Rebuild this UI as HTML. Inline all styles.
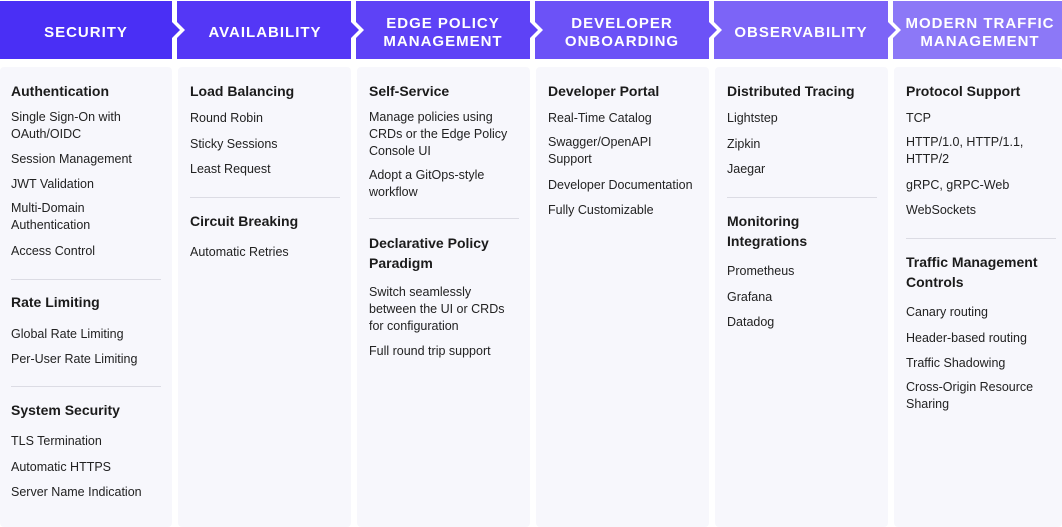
<!DOCTYPE html>
<html><head><meta charset="utf-8"><style>
body{margin:0;width:1062px;height:515px;background:#fff;position:relative;overflow:hidden;font-family:"Liberation Sans",sans-serif;}
svg{position:absolute;left:0;top:0}
.card{position:absolute;top:67px;height:460px;background:#f7f7fc;border-radius:4px}
.t{position:absolute;color:#222;font-size:12.5px;line-height:17px}
.h{position:absolute;color:#1b1b1b;font-size:14px;font-weight:bold;line-height:20px}
.sep{position:absolute;height:1px;background:#dcdce4}
</style></head><body>
<div class="card" style="left:0;width:172px"></div>
<div class="card" style="left:178px;width:173px"></div>
<div class="card" style="left:357px;width:173px"></div>
<div class="card" style="left:536px;width:173px"></div>
<div class="card" style="left:715px;width:173px"></div>
<div class="card" style="left:894px;width:168px"></div>
<svg width="1062" height="65">
<polygon fill="#4a2ff5" points="0,1 172,1 172,22 180,30 172,38 172,59 0,59"/>
<polygon fill="#5437f6" points="177,1 351,1 351,22 359,30 351,38 351,59 177,59 177,38 185,30 177,22"/>
<polygon fill="#5e42f6" points="356,1 530,1 530,22 538,30 530,38 530,59 356,59 356,38 364,30 356,22"/>
<polygon fill="#6c52f7" points="535,1 709,1 709,22 717,30 709,38 709,59 535,59 535,38 543,30 535,22"/>
<polygon fill="#7c64f7" points="714,1 888,1 888,22 896,30 888,38 888,59 714,59 714,38 722,30 714,22"/>
<polygon fill="#8c78f7" points="893,1 1062,1 1062,59 893,59 893,38 901,30 893,22"/>
<g fill="#fff" font-family="Liberation Sans" font-weight="bold" font-size="15" text-anchor="middle" letter-spacing="1">
<text x="86" y="37">SECURITY</text>
<text x="265" y="37">AVAILABILITY</text>
<text x="443" y="28">EDGE POLICY</text><text x="443" y="46">MANAGEMENT</text>
<text x="622" y="28">DEVELOPER</text><text x="622" y="46">ONBOARDING</text>
<text x="801" y="37">OBSERVABILITY</text>
<text x="980" y="28">MODERN TRAFFIC</text><text x="980" y="46">MANAGEMENT</text>
</g></svg>

<div class="h" style="left:11px;top:81px">Authentication</div>
<div class="t" style="left:11px;top:109px">Single Sign-On with<br>OAuth/OIDC</div>
<div class="t" style="left:11px;top:151px">Session Management</div>
<div class="t" style="left:11px;top:176px">JWT Validation</div>
<div class="t" style="left:11px;top:200px">Multi-Domain<br>Authentication</div>
<div class="t" style="left:11px;top:243px">Access Control</div>
<div class="sep" style="left:11px;top:279px;width:150px"></div>
<div class="h" style="left:11px;top:292px">Rate Limiting</div>
<div class="t" style="left:11px;top:326px">Global Rate Limiting</div>
<div class="t" style="left:11px;top:351px">Per-User Rate Limiting</div>
<div class="sep" style="left:11px;top:386px;width:150px"></div>
<div class="h" style="left:11px;top:400px">System Security</div>
<div class="t" style="left:11px;top:433px">TLS Termination</div>
<div class="t" style="left:11px;top:459px">Automatic HTTPS</div>
<div class="t" style="left:11px;top:484px">Server Name Indication</div>

<div class="h" style="left:190px;top:81px">Load Balancing</div>
<div class="t" style="left:190px;top:110px">Round Robin</div>
<div class="t" style="left:190px;top:136px">Sticky Sessions</div>
<div class="t" style="left:190px;top:161px">Least Request</div>
<div class="sep" style="left:190px;top:197px;width:150px"></div>
<div class="h" style="left:190px;top:211px">Circuit Breaking</div>
<div class="t" style="left:190px;top:244px">Automatic Retries</div>

<div class="h" style="left:369px;top:81px">Self-Service</div>
<div class="t" style="left:369px;top:109px">Manage policies using<br>CRDs or the Edge Policy<br>Console UI</div>
<div class="t" style="left:369px;top:167px">Adopt a GitOps-style<br>workflow</div>
<div class="sep" style="left:369px;top:218px;width:150px"></div>
<div class="h" style="left:369px;top:233px">Declarative Policy<br>Paradigm</div>
<div class="t" style="left:369px;top:284px">Switch seamlessly<br>between the UI or CRDs<br>for configuration</div>
<div class="t" style="left:369px;top:343px">Full round trip support</div>

<div class="h" style="left:548px;top:81px">Developer Portal</div>
<div class="t" style="left:548px;top:110px">Real-Time Catalog</div>
<div class="t" style="left:548px;top:134px">Swagger/OpenAPI<br>Support</div>
<div class="t" style="left:548px;top:177px">Developer Documentation</div>
<div class="t" style="left:548px;top:202px">Fully Customizable</div>

<div class="h" style="left:727px;top:81px">Distributed Tracing</div>
<div class="t" style="left:727px;top:110px">Lightstep</div>
<div class="t" style="left:727px;top:136px">Zipkin</div>
<div class="t" style="left:727px;top:161px">Jaegar</div>
<div class="sep" style="left:727px;top:197px;width:150px"></div>
<div class="h" style="left:727px;top:211px">Monitoring<br>Integrations</div>
<div class="t" style="left:727px;top:263px">Prometheus</div>
<div class="t" style="left:727px;top:289px">Grafana</div>
<div class="t" style="left:727px;top:314px">Datadog</div>

<div class="h" style="left:906px;top:81px">Protocol Support</div>
<div class="t" style="left:906px;top:110px">TCP</div>
<div class="t" style="left:906px;top:134px">HTTP/1.0, HTTP/1.1,<br>HTTP/2</div>
<div class="t" style="left:906px;top:177px">gRPC, gRPC-Web</div>
<div class="t" style="left:906px;top:202px">WebSockets</div>
<div class="sep" style="left:906px;top:238px;width:150px"></div>
<div class="h" style="left:906px;top:252px">Traffic Management<br>Controls</div>
<div class="t" style="left:906px;top:304px">Canary routing</div>
<div class="t" style="left:906px;top:330px">Header-based routing</div>
<div class="t" style="left:906px;top:355px">Traffic Shadowing</div>
<div class="t" style="left:906px;top:379px">Cross-Origin Resource<br>Sharing</div>
</body></html>
